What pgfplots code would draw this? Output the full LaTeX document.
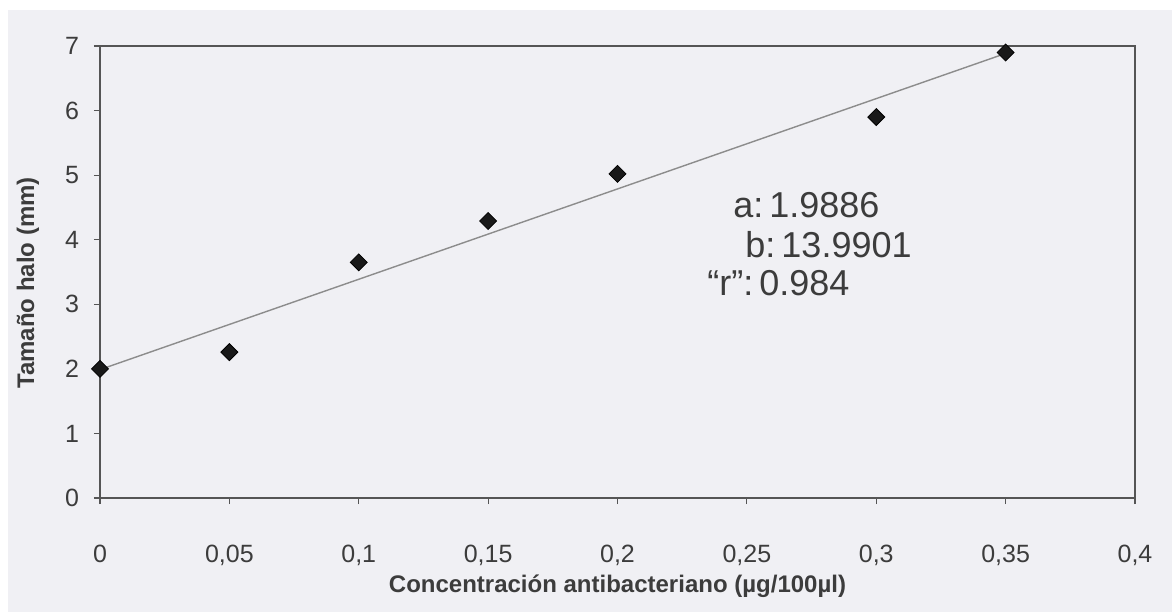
\documentclass[border=0pt]{standalone}
\usepackage{pgfplots}
\pgfplotsset{compat=1.18}
\usepackage{fontspec}
\setmainfont{Liberation Sans}
\definecolor{bg}{RGB}{240,240,244}
\definecolor{axc}{RGB}{85,85,85}
\definecolor{txt}{RGB}{60,60,60}
\definecolor{fitc}{RGB}{140,140,140}
\begin{document}
\begin{tikzpicture}
\fill[white] (-50pt,-57pt) rectangle (536pt,249pt);
\fill[bg] (-46pt,-57pt) rectangle (536pt,244pt);
\useasboundingbox (-50pt,-57pt) rectangle (536pt,249pt);
\begin{axis}[
  scale only axis,
  width=517.5pt, height=226pt,
  xmin=0, xmax=0.4, ymin=0, ymax=7,
  xtick={0,0.05,0.1,0.15,0.2,0.25,0.3,0.35,0.4},
  xticklabels={0,{0,05},{0,1},{0,15},{0,2},{0,25},{0,3},{0,35},{0,4}},
  ytick={0,1,2,3,4,5,6,7},
  tick pos=left,
  /pgf/number format/assume math mode=true,
  tick align=outside,
  major tick length=3pt,
  tick style={axc, line width=0.6pt},
  axis line style={axc, line width=1pt},
  ticklabel style={font=\fontsize{12.5}{14}\selectfont, text=txt},
  xticklabel style={yshift=-17pt},
  yticklabel style={xshift=-4pt},
  xlabel={\textbf{Concentración antibacteriano (µg/100µl)}},
  ylabel={\textbf{Tamaño halo (mm)}},
  label style={font=\fontsize{12}{14}\selectfont, text=txt},
  xlabel style={at={(axis description cs:0.5,-0.196)}, anchor=center},
  ylabel style={at={(axis description cs:-0.0696,0.476)}, anchor=center, rotate=0},
  axis background/.style={fill=bg},
  clip=false,
]
\addplot[fitc, line width=0.7pt] coordinates {(0,1.9886) (0.35,6.8851)};
\addplot[only marks, mark=square*, mark size=3pt, black, mark options={rotate=45, fill=black!90}] coordinates {
(0,2.0) (0.05,2.26) (0.1,3.65) (0.15,4.29) (0.2,5.02) (0.3,5.90) (0.35,6.9)};
\node[anchor=west, text=txt, font=\fontsize{18}{20}\selectfont, inner sep=0pt] at (axis cs:0.2446,4.54) {a:\,1.9886};
\node[anchor=west, text=txt, font=\fontsize{18}{20}\selectfont, inner sep=0pt] at (axis cs:0.2493,3.92) {b:\,13.9901};
\node[anchor=west, text=txt, font=\fontsize{18}{20}\selectfont, inner sep=0pt] at (axis cs:0.2346,3.33) {“r”:\,0.984};
\end{axis}
\end{tikzpicture}
\end{document}
